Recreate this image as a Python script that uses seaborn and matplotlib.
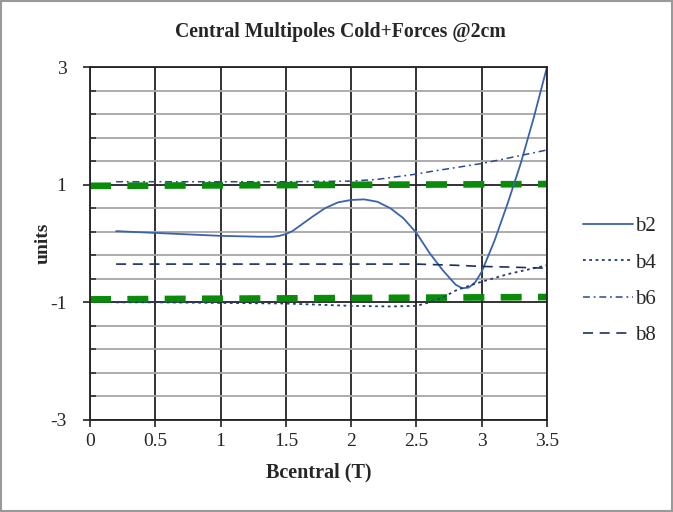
import numpy as np
import pandas as pd
import matplotlib
matplotlib.use('Agg')
import matplotlib.pyplot as plt
from matplotlib.patches import Rectangle
import seaborn as sns

# values
b2_x = [0.2, 0.5, 0.8, 1.0, 1.2, 1.3, 1.4, 1.45, 1.5, 1.55, 1.6, 1.7, 1.8, 1.9, 2.0, 2.1,
        2.2, 2.3, 2.4, 2.5, 2.6, 2.7, 2.8, 2.85, 2.9, 2.95, 3.0, 3.1, 3.2, 3.3, 3.4, 3.5]
b2_y = [0.21, 0.18, 0.15, 0.13, 0.12, 0.115, 0.115, 0.13, 0.16, 0.21, 0.29, 0.45, 0.6,
        0.7, 0.74, 0.75, 0.71, 0.6, 0.43, 0.18, -0.16, -0.45, -0.7, -0.76, -0.75, -0.66,
        -0.48, 0.06, 0.69, 1.37, 2.15, 3.0]

b4_x = [0.2, 0.5, 1.0, 1.5, 2.0, 2.3, 2.5, 2.6, 2.7, 2.8, 2.9, 3.0, 3.2, 3.5]
b4_y = [-1.0, -1.0, -1.01, -1.02, -1.06, -1.07, -1.06, -1.0, -0.92, -0.8, -0.72, -0.65, -0.52, -0.37]

b6_x = [0.2, 0.5, 1.0, 1.5, 2.0, 2.2, 2.4, 2.5, 2.6, 2.8, 3.0, 3.2, 3.5]
b6_y = [1.05, 1.05, 1.05, 1.05, 1.06, 1.09, 1.15, 1.18, 1.22, 1.29, 1.36, 1.45, 1.59]

b8_x = [0.2, 1.0, 2.0, 2.5, 2.8, 3.0, 3.2, 3.5]
b8_y = [-0.35, -0.35, -0.35, -0.35, -0.37, -0.39, -0.4, -0.42]

limit_x = [0.0, 3.5]
upper_limit = [0.98, 1.01]
lower_limit = [-0.95, -0.91]

x_ticks = [0, 0.5, 1, 1.5, 2, 2.5, 3, 3.5]
x_labels = ['0', '0.5', '1', '1.5', '2', '2.5', '3', '3.5']
y_ticks = [-3, -1, 1, 3]
y_minor = [-2.6, -2.2, -1.8, -1.4, -0.6, -0.2, 0.2, 0.6, 1.4, 1.8, 2.2, 2.6]

sns.set_style('white')
plt.rcParams['font.family'] = ['Liberation Serif', 'DejaVu Serif']
plt.rcParams['axes.unicode_minus'] = False

fig = plt.figure(figsize=(6.73, 5.12), dpi=100)
ax = fig.add_axes([90 / 673, 1 - 420 / 512, 457 / 673, 353 / 512])

# grid
ax.set_xlim(0, 3.5)
ax.set_ylim(-3, 3)
ax.set_xticks(x_ticks)
ax.set_xticklabels(x_labels)
ax.set_yticks(y_ticks)
ax.set_yticklabels([str(v) for v in y_ticks])
ax.set_yticks(y_minor, minor=True)
ax.grid(which='minor', axis='y', color='#a6a6a6', lw=1.3)
ax.grid(which='major', axis='y', color='#222222', lw=1.3)
ax.grid(which='major', axis='x', color='#222222', lw=1.3)
ax.set_axisbelow(True)
for s in ax.spines.values():
    s.set_color('#222222')
    s.set_linewidth(1.3)

# green limit lines
for lim in [upper_limit, lower_limit]:
    sns.lineplot(x=limit_x, y=lim, ax=ax, color='#0a8c0a', lw=4.8,
                 legend=False, label='_nolegend_')
    ax.lines[-1].set_dashes([3.15, 2.45])
    ax.lines[-1].set_dash_capstyle('butt')

series = [
    ('b2', b2_x, b2_y, '#3a62ad', 1.3, None),
    ('b4', b4_x, b4_y, '#1f3a78', 1.3, [1.5, 2.0]),
    ('b6', b6_x, b6_y, '#2a4a8a', 1.1, [4.5, 2.5, 1.2, 2.5]),
    ('b8', b8_x, b8_y, '#1a2f66', 1.2, [6.0, 4.0]),
]
handles = []
for name, xs, ys, col, lw, dash in series:
    df = pd.DataFrame({'B': xs, 'val': ys})
    sns.lineplot(data=df, x='B', y='val', ax=ax, color=col, lw=lw, legend=False)
    line = ax.lines[-1]
    if dash is not None:
        line.set_dashes(dash)
    line.set_label(name)
    handles.append(line)

ax.tick_params(axis='both', which='major', labelsize=14, direction='out',
               length=5, width=1.2, color='#222222', left=True, bottom=True)
ax.tick_params(axis='y', which='major', pad=12)
ax.tick_params(axis='x', which='major', pad=4)
ax.tick_params(axis='y', which='minor', direction='in', length=4, width=1.1,
               color='#222222', left=True)

ax.set_xlabel('Bcentral (T)', fontsize=14.5, fontweight='bold', labelpad=9)
ax.set_ylabel('units', fontsize=14, fontweight='bold', labelpad=-1)
fig.text(340 / 673, 1 - 32 / 512, 'Central Multipoles Cold+Forces @2cm',
         fontsize=14.2, fontweight='bold', ha='center', va='center')

fig.legend(handles=handles, labels=['b2', 'b4', 'b6', 'b8'], loc='center left',
           bbox_to_anchor=(583 / 673, 1 - 281 / 512), frameon=False,
           fontsize=15, handlelength=2.4, handletextpad=0.1,
           labelspacing=0.8, borderpad=0, borderaxespad=0)

fig.patches.append(Rectangle((0.002, 0.002), 0.996, 0.996, transform=fig.transFigure,
                             fill=False, edgecolor='#9a9a9a', lw=1.5))

fig.savefig('out.png', dpi=100)
